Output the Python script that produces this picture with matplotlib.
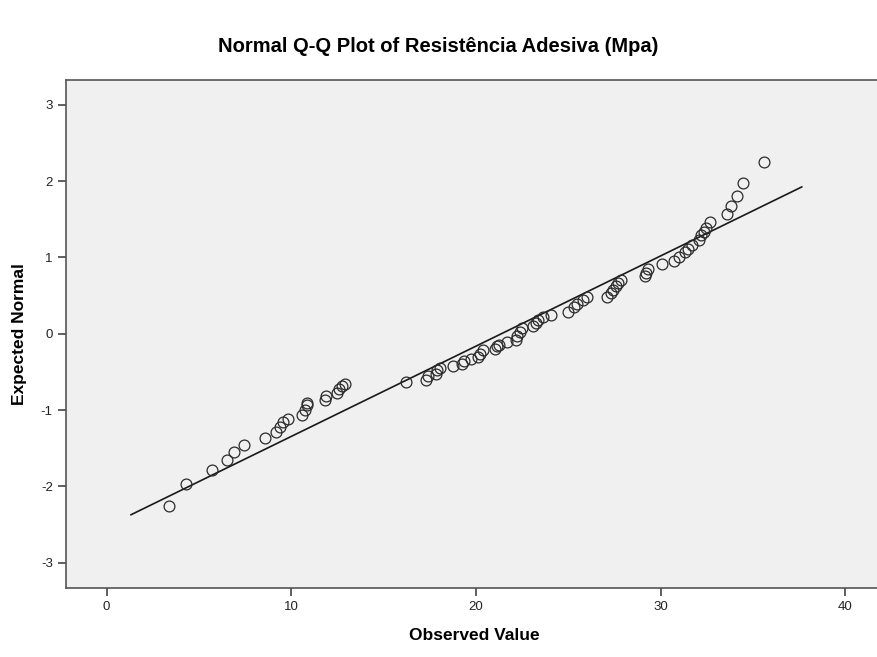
import numpy as np
import matplotlib
matplotlib.use("Agg")
import matplotlib.pyplot as plt

observed = [3.39, 4.28, 5.68, 6.52, 6.89, 7.42, 8.59, 9.19, 9.38, 9.57,
            9.80, 10.58, 10.77, 10.83, 10.86, 11.84, 11.90, 12.49, 12.60, 12.74,
            12.91, 16.23, 17.30, 17.41, 17.86, 17.91, 18.05, 18.76, 19.23, 19.34,
            19.74, 20.10, 20.21, 20.38, 21.05, 21.16, 21.27, 21.70, 22.17, 22.23,
            22.40, 22.48, 23.10, 23.24, 23.38, 23.66, 24.08, 24.97, 25.33, 25.47,
            25.81, 26.04, 27.10, 27.30, 27.44, 27.58, 27.71, 27.88, 29.17, 29.20,
            29.31, 30.09, 30.74, 31.02, 31.35, 31.50, 31.69, 32.11, 32.20, 32.34,
            32.48, 32.67, 33.59, 33.79, 34.15, 34.49, 35.58]
expected = [-2.25, -1.97, -1.79, -1.65, -1.55, -1.45, -1.37, -1.29, -1.22, -1.16,
            -1.12, -1.06, -1.00, -0.93, -0.90, -0.87, -0.82, -0.78, -0.72, -0.69,
            -0.66, -0.63, -0.60, -0.55, -0.53, -0.48, -0.45, -0.42, -0.39, -0.36,
            -0.33, -0.30, -0.26, -0.21, -0.20, -0.16, -0.14, -0.11, -0.08, -0.03,
            0.03, 0.07, 0.10, 0.14, 0.18, 0.22, 0.25, 0.28, 0.35, 0.39,
            0.44, 0.48, 0.48, 0.54, 0.58, 0.63, 0.67, 0.71, 0.76, 0.80,
            0.85, 0.91, 0.96, 1.00, 1.07, 1.11, 1.16, 1.23, 1.29, 1.34,
            1.39, 1.46, 1.57, 1.67, 1.80, 1.97, 2.255]

# reference line of the fitted normal
line_mean = 21.37
line_sd = 8.46
line_x = [1.32, 37.65]

x_ticks = [0, 10, 20, 30, 40]
y_ticks = [-3, -2, -1, 0, 1, 2, 3]

plt.rcParams['font.family'] = ['Liberation Sans', 'DejaVu Sans']
plt.rcParams['axes.unicode_minus'] = False

fig = plt.figure(figsize=(8.77, 6.57), dpi=100)
ax = fig.add_axes([0.0753, 0.105, 0.9305, 0.7738])
ax.set_facecolor('#f0f0f0')

lx = np.array(line_x)
ax.plot(lx, (lx - line_mean) / line_sd, color='#1a1a1a', lw=1.2, zorder=2)
ax.plot(observed, expected, 'o', mfc='none', mec='#2b2b2b', mew=0.9, ms=7.8, zorder=3)

ax.set_xlim(-2.2, 42.0)
ax.set_ylim(-3.33, 3.33)
ax.set_xticks(x_ticks)
ax.set_yticks(y_ticks)
ax.tick_params(direction='out', length=6, width=1.2, color='#444444',
               labelsize=9.5, labelcolor='#222222')
for s in ax.spines.values():
    s.set_color('#555555')
    s.set_linewidth(1.2)

ax.set_xlabel('Observed Value', fontsize=12.5, fontweight='bold', labelpad=11)
ax.set_ylabel('Expected Normal', fontsize=12.5, fontweight='bold', labelpad=10)
fig.suptitle('Normal Q-Q Plot of Resistência Adesiva (Mpa)', x=0.5, y=0.943,
             fontsize=14.5, fontweight='bold')

fig.savefig('out.png', dpi=100)
